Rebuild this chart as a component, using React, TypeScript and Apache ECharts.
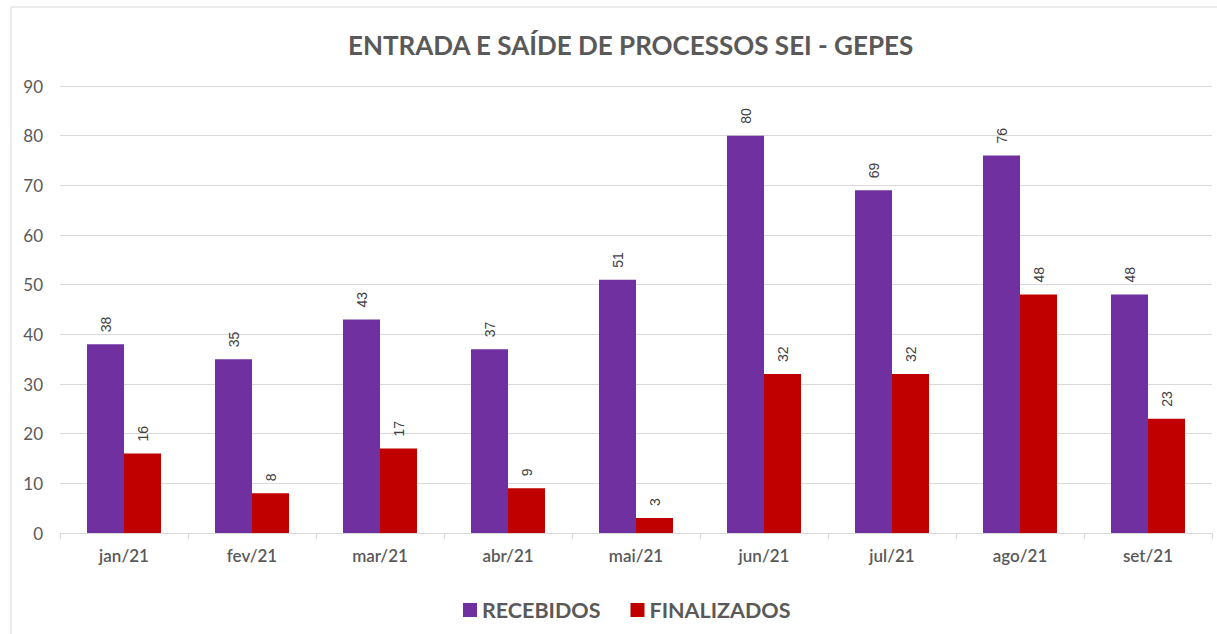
import React, { useEffect, useRef } from "react";
import * as echarts from "echarts";

const categories = ["jan/21", "fev/21", "mar/21", "abr/21", "mai/21", "jun/21", "jul/21", "ago/21", "set/21"];
const recebidos = [38, 35, 43, 37, 51, 80, 69, 76, 48];
const finalizados = [16, 8, 17, 9, 3, 32, 32, 48, 23];
const seriesNames = ["RECEBIDOS", "FINALIZADOS"];
const title = "ENTRADA E SAÍDE DE PROCESSOS SEI - GEPES";

const FONT = "Lato, 'Open Sans', sans-serif";

export default function App() {
  const ref = useRef<HTMLDivElement>(null);
  useEffect(() => {
    document.body.style.margin = "0";
    const chart = echarts.init(ref.current!, null, { renderer: "svg" });
    const label = {
      show: true,
      position: "top",
      rotate: 90,
      align: "left",
      verticalAlign: "middle",
      distance: 12,
      fontSize: 14,
      color: "#404040",
      fontFamily: "'Liberation Sans', Arial, sans-serif",
    };
    chart.setOption({
      animation: false,
      backgroundColor: "#ffffff",
      title: {
        text: title,
        left: 343,
        top: 27,
        textStyle: { fontFamily: FONT, fontSize: 26, fontWeight: "bold", color: "#595959" },
      },
      graphic: [
        {
          type: "rect",
          shape: { x: 11, y: 7, width: 1230, height: 650 },
          style: { fill: "none", stroke: "#d9d9d9", lineWidth: 1 },
          silent: true,
        },
      ],
      legend: {
        data: seriesNames,
        left: 458,
        top: 594,
        itemWidth: 14,
        itemHeight: 14,
        itemGap: 30,
        icon: "rect",
        textStyle: { fontFamily: FONT, fontSize: 21.5, fontWeight: "bold", color: "#595959" },
      },
      grid: { left: 60, right: 5, top: 86, bottom: 101, containLabel: false },
      xAxis: {
        type: "category",
        data: categories,
        axisLine: { lineStyle: { color: "#d9d9d9" } },
        axisTick: { show: true, length: 6, lineStyle: { color: "#d9d9d9" } },
        axisLabel: { fontFamily: FONT, fontSize: 17, fontWeight: 600, color: "#595959", margin: 14 },
      },
      yAxis: {
        type: "value",
        min: 0,
        max: 90,
        interval: 10,
        axisLine: { show: false },
        axisTick: { show: false },
        splitLine: { lineStyle: { color: "#d9d9d9" } },
        axisLabel: { fontFamily: FONT, fontSize: 17, color: "#595959", margin: 17 },
      },
      series: [
        {
          name: seriesNames[0],
          type: "bar",
          data: recebidos,
          barWidth: 37,
          barGap: "0%",
          itemStyle: { color: "#7030A0" },
          label,
        },
        {
          name: seriesNames[1],
          type: "bar",
          data: finalizados,
          barWidth: 37,
          barGap: "0%",
          itemStyle: { color: "#C00000" },
          label,
        },
      ],
    });
    return () => chart.dispose();
  }, []);
  return <div ref={ref} style={{ width: 1217, height: 634, position: "absolute", left: 0, top: 0 }} />;
}
